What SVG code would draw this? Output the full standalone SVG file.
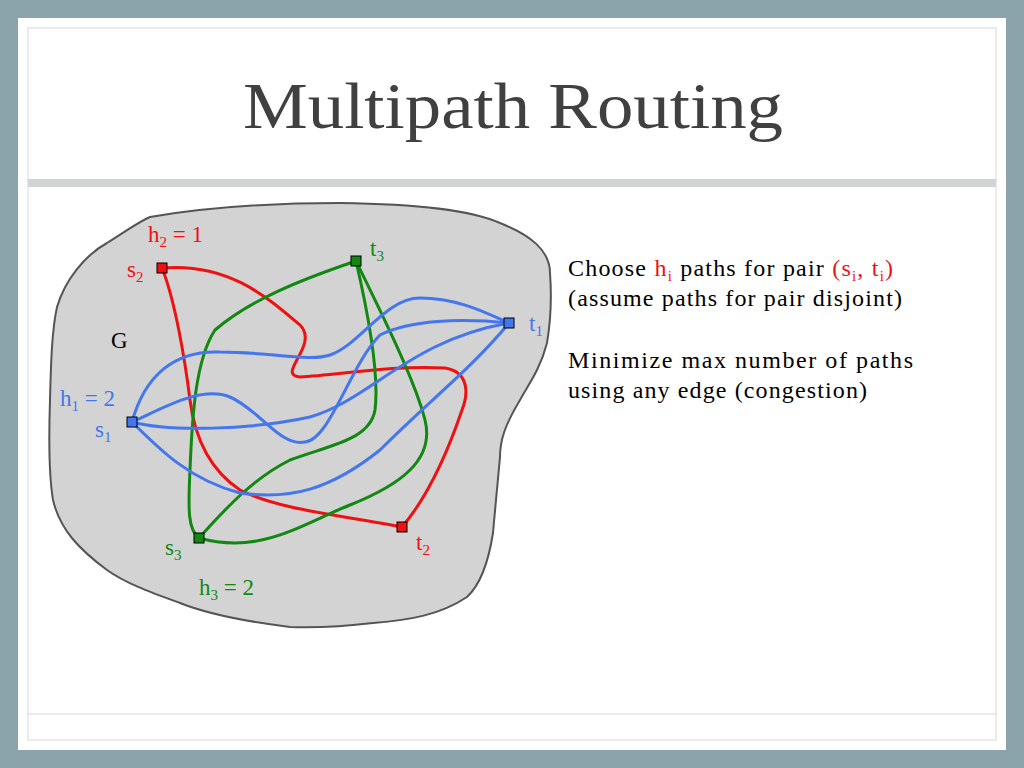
<svg xmlns="http://www.w3.org/2000/svg" width="1024" height="768" viewBox="0 0 1024 768">
<style>
text{font-family:"Liberation Serif",serif}
.r{stroke:#ee1111}.g{stroke:#118811}.b{stroke:#4477ee}
.p{fill:none;stroke-width:3}
.n{stroke:#000;stroke-width:1}
.lr{fill:#ee1111}.lg{fill:#118811}.lb{fill:#4477ee}
.t{font-size:24px;fill:#000}
</style>
<rect width="1024" height="768" fill="#8ba3aa"/>
<rect x="18" y="18" width="988" height="732" fill="#fff"/>
<rect x="28" y="28" width="968" height="712" fill="none" stroke="#d8d8d8"/>
<rect x="28" y="179" width="968" height="8" fill="#d0d4d5"/>
<line x1="28" y1="714" x2="996" y2="714" stroke="#d8d8d8"/>
<text x="243" y="128" font-size="66" fill="#404040" textLength="540" lengthAdjust="spacingAndGlyphs">Multipath Routing</text>
<path d="M150,217 C220,205 290,203 340,203 C420,204 470,210 500,223 C530,235 550,250 550,273 C552,300 550,325 547,343 C540,370 528,385 520,400 C505,425 500,440 500,457 C497,490 495,510 493,533 C488,565 480,585 467,597 C440,615 410,620 373,623 C340,627 320,628 290,627 C250,622 210,615 180,603 C150,592 125,583 107,570 C80,550 60,530 53,500 C48,470 49,430 50,400 C51,360 52,330 57,307 C65,280 85,255 107,243 C125,232 138,222 150,217 Z" fill="#d3d3d3" stroke="#555" stroke-width="2"/>
<g id="connectors">
<path class="p r" d="M162,268 C230,262 270,300 300,325 C320,345 275,375 300,377 C340,375 390,365 445,368 C470,372 468,395 462,410 C445,460 425,500 402,527"/>
<path class="p r" d="M162,268 C175,300 185,360 190,400 C195,440 210,470 240,490 C280,510 340,515 402,527"/>
<path class="p g" d="M356,261 C300,280 250,300 215,330 C195,360 192,420 190,470 C188,510 188,530 199,538"/>
<path class="p g" d="M356,261 C365,300 380,370 375,410 C370,440 330,445 290,460 C250,480 220,515 199,538"/>
<path class="p g" d="M356,261 C380,310 415,380 425,420 C435,460 400,485 350,505 C300,525 260,555 199,538"/>
<path class="p b" d="M132,422 C145,375 175,350 220,352 C270,352 310,362 330,355 C360,345 385,298 420,298 C460,298 490,315 509,323"/>
<path class="p b" d="M132,422 C160,410 200,385 230,397 C260,410 280,447 305,442 C330,440 350,365 380,335 C410,320 460,318 509,323"/>
<path class="p b" d="M132,422 C170,432 250,430 310,417 C370,400 410,340 509,323"/>
<path class="p b" d="M132,422 C160,450 190,480 240,493 C290,500 330,490 380,450 C430,400 470,370 509,323"/>
</g>
<g id="s2"><rect class="n" x="157" y="263" width="10" height="10" fill="#ee1111"/><text x="127" y="277" font-size="23" class="lr">s<tspan font-size="15" dy="5">2</tspan></text></g>
<g id="t2"><rect class="n" x="397" y="522" width="10" height="10" fill="#ee1111"/><text x="416" y="550" font-size="23" class="lr">t<tspan font-size="15" dy="5">2</tspan></text></g>
<g id="t3"><rect class="n" x="351" y="256" width="10" height="10" fill="#118811"/><text x="370" y="256" font-size="23" class="lg">t<tspan font-size="15" dy="5">3</tspan></text></g>
<g id="s3"><rect class="n" x="194" y="533" width="10" height="10" fill="#118811"/><text x="165" y="555" font-size="23" class="lg">s<tspan font-size="15" dy="5">3</tspan></text></g>
<g id="t1"><rect class="n" x="504" y="318" width="10" height="10" fill="#4477ee"/><text x="529" y="331" font-size="23" class="lb">t<tspan font-size="15" dy="5">1</tspan></text></g>
<g id="s1"><rect class="n" x="127" y="417" width="10" height="10" fill="#4477ee"/><text x="95" y="437" font-size="23" class="lb">s<tspan font-size="15" dy="5">1</tspan></text></g>
<text x="148" y="242" font-size="23" class="lr">h<tspan font-size="15" dy="5">2</tspan><tspan dy="-5"> = 1</tspan></text>
<text x="60" y="406" font-size="23" class="lb">h<tspan font-size="15" dy="5">1</tspan><tspan dy="-5"> = 2</tspan></text>
<text x="199" y="595" font-size="23" class="lg">h<tspan font-size="15" dy="5">3</tspan><tspan dy="-5"> = 2</tspan></text>
<text x="111" y="348" font-size="23" fill="#000">G</text>
<text class="t" x="568" y="276" textLength="325" lengthAdjust="spacing">Choose <tspan fill="#ee1111">h<tspan font-size="15" dy="5">i</tspan></tspan><tspan dy="-5"> paths for pair </tspan><tspan fill="#ee1111">(s<tspan font-size="15" dy="5">i</tspan><tspan dy="-5">, t</tspan><tspan font-size="15" dy="5">i</tspan><tspan dy="-5">)</tspan></tspan></text>
<text class="t" x="568" y="306" textLength="334" lengthAdjust="spacing">(assume paths for pair disjoint)</text>
<text class="t" x="568" y="368" textLength="345" lengthAdjust="spacing">Minimize max number of paths</text>
<text class="t" x="568" y="398" textLength="299" lengthAdjust="spacing">using any edge (congestion)</text>
</svg>
